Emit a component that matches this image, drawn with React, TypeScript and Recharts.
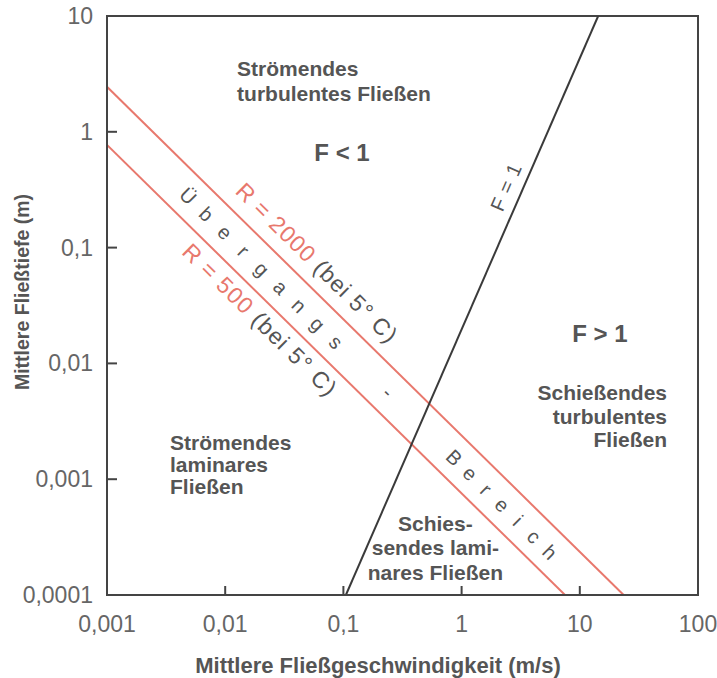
import React from 'react';
import { ComposedChart, Line, XAxis, YAxis, ReferenceDot, ReferenceArea } from 'recharts';

const FONT = '"Liberation Sans", Arial, Helvetica, sans-serif';
const GRAY = '#555555';
const TICKGRAY = '#666666';
const RED = '#e8786d';
const AXIS = '#444444';

// tick values
const xTicks = [0.001, 0.01, 0.1, 1, 10, 100];
const yTicks = [0.0001, 0.001, 0.01, 0.1, 1, 10];

// series (velocity v in m/s, depth h in m)
const froude = [
  { v: 0.105, h: 0.0001 },
  { v: 14.3, h: 10 },
];
const reynolds2000 = [
  { v: 0.001, h: 2.45 },
  { v: 23.5, h: 0.0001 },
];
const reynolds500 = [
  { v: 0.001, h: 0.77 },
  { v: 7.5, h: 0.0001 },
];

// texts
const turbSub = ['Strömendes', 'turbulentes Fließen'];
const turbSuper = ['Schießendes', 'turbulentes', 'Fließen'];
const lamSub = ['Strömendes', 'laminares', 'Fließen'];
const lamSuper = ['Schies-', 'sendes lami-', 'nares Fließen'];
const transition1 = 'Übergangs';
const transition2 = 'Bereich';

const fmt = (n: number) => String(n).replace('.', ',');

const XTick = (p: any) => {
  const { x, y, payload } = p;
  return (
    <g>
      <line x1={x} x2={x} y1={y} y2={y - 9} stroke={AXIS} strokeWidth={2} />
      <text x={x} y={y + 29} textAnchor="middle" dominantBaseline="central" fontSize={23} fill={TICKGRAY} fontFamily={FONT}>
        {fmt(payload.value)}
      </text>
    </g>
  );
};

const YTick = (p: any) => {
  const { x, y, payload } = p;
  return (
    <g>
      <line x1={x} x2={x + 10} y1={y} y2={y} stroke={AXIS} strokeWidth={2} />
      <text x={x - 14} y={y} textAnchor="end" dominantBaseline="central" fontSize={23} fill={TICKGRAY} fontFamily={FONT}>
        {fmt(payload.value)}
      </text>
    </g>
  );
};

const Multi = ({ cx, cy, lines, anchor = 'start', size = 21, weight = 'bold', lh = 23, color = GRAY }: any) => (
  <text x={cx} y={cy} textAnchor={anchor} dominantBaseline="central" fontSize={size} fontWeight={weight} fill={color} fontFamily={FONT}>
    {lines.map((l: string, i: number) => (
      <tspan key={i} x={cx} dy={i === 0 ? 0 : lh}>
        {l}
      </tspan>
    ))}
  </text>
);

const Rotated = ({ cx, cy, angle, children, size = 20, weight = 'normal', spacing = 0 }: any) => (
  <g transform={`rotate(${angle} ${cx} ${cy})`}>
    <text x={cx} y={cy} textAnchor="middle" dominantBaseline="central" fontSize={size} fontWeight={weight} fill={GRAY} fontFamily={FONT} letterSpacing={spacing}>
      {children}
    </text>
  </g>
);

const Spaced = ({ cx, cy, angle, text, step, size = 20 }: any) => {
  const chars = Array.from(text as string);
  const n = chars.length;
  return (
    <g transform={`translate(${cx} ${cy}) rotate(${angle})`}>
      {chars.map((c, i) => (
        <text key={i} x={(i - (n - 1) / 2) * step} y={0} textAnchor="middle" dominantBaseline="central" fontSize={size} fill={GRAY} fontFamily={FONT}>
          {c}
        </text>
      ))}
    </g>
  );
};

const RED_ANGLE = 44.6;
const F_ANGLE = -66.5;

export default function App() {
  return (
    <div style={{ position: 'absolute', left: 0, top: 0, background: '#fff' }}>
      <ComposedChart width={717} height={678} margin={{ top: 16, right: 19, bottom: 0, left: 0 }}>
        <XAxis
          dataKey="v"
          type="number"
          scale="log"
          domain={[0.001, 100]}
          allowDataOverflow
          ticks={xTicks}
          interval={0}
          height={83}
          tickSize={0}
          tickMargin={0}
          tick={<XTick />}
          stroke={AXIS}
          strokeWidth={2}
          label={{
            content: (p: any) => {
              const vb = p.viewBox;
              return (
                <text x={378} y={vb.y + 70} textAnchor="middle" dominantBaseline="central" fontSize={22} fontWeight="bold" fill={GRAY} fontFamily={FONT}>
                  Mittlere Fließgeschwindigkeit (m/s)
                </text>
              );
            },
          }}
        />
        <YAxis
          dataKey="h"
          type="number"
          scale="log"
          domain={[0.0001, 10]}
          allowDataOverflow
          ticks={yTicks}
          interval={0}
          width={107}
          tickSize={0}
          tickMargin={0}
          tick={<YTick />}
          stroke={AXIS}
          strokeWidth={2}
          label={{
            content: () => (
              <text x={22} y={292} transform="rotate(-90 22 292)" textAnchor="middle" dominantBaseline="central" fontSize={19.5} fontWeight="bold" fill={GRAY} fontFamily={FONT}>
                Mittlere Fließtiefe (m)
              </text>
            ),
          }}
        />
        <ReferenceArea x1={0.001} x2={100} y1={0.0001} y2={10} fill="none" stroke={AXIS} strokeWidth={2} />
        <Line data={reynolds2000} dataKey="h" type="linear" stroke={RED} strokeWidth={2} dot={false} isAnimationActive={false} />
        <Line data={reynolds500} dataKey="h" type="linear" stroke={RED} strokeWidth={2} dot={false} isAnimationActive={false} />
        <Line data={froude} dataKey="h" type="linear" stroke="#3a3a3a" strokeWidth={2} dot={false} isAnimationActive={false} />

        <ReferenceDot x={0.0126} y={3.56} r={0} shape={(p: any) => <Multi cx={p.cx} cy={p.cy} lines={turbSub} lh={25} />} />
        <ReferenceDot x={0.0973} y={0.669} r={0} shape={(p: any) => <Multi cx={p.cx} cy={p.cy} lines={['F < 1']} anchor="middle" size={24} />} />
        <ReferenceDot x={14.8} y={0.0183} r={0} shape={(p: any) => <Multi cx={p.cx} cy={p.cy} lines={['F > 1']} anchor="middle" size={24} />} />
        <ReferenceDot x={54.7} y={0.00566} r={0} shape={(p: any) => <Multi cx={p.cx} cy={p.cy} lines={turbSuper} anchor="end" lh={23.5} />} />
        <ReferenceDot x={0.00341} y={0.002095} r={0} shape={(p: any) => <Multi cx={p.cx} cy={p.cy} lines={lamSub} lh={22} />} />
        <ReferenceDot x={0.6} y={0.000419} r={0} shape={(p: any) => <Multi cx={p.cx} cy={p.cy} lines={lamSuper} anchor="middle" lh={24.5} />} />

        <ReferenceDot x={2.375} y={0.3337} r={0} shape={(p: any) => <Rotated cx={p.cx} cy={p.cy} angle={F_ANGLE} size={20} spacing={0.8}>F = 1</Rotated>} />
        <ReferenceDot
          x={0.0598}
          y={0.0736}
          r={0}
          shape={(p: any) => (
            <Rotated cx={p.cx} cy={p.cy} angle={RED_ANGLE} size={23} spacing={1}>
              <tspan fill={RED}>R = 2000</tspan>
              <tspan> (bei 5° C)</tspan>
            </Rotated>
          )}
        />
        <ReferenceDot
          x={0.0197}
          y={0.0237}
          r={0}
          shape={(p: any) => (
            <Rotated cx={p.cx} cy={p.cy} angle={RED_ANGLE} size={23} spacing={1.2}>
              <tspan fill={RED}>R = 500</tspan>
              <tspan> (bei 5° C)</tspan>
            </Rotated>
          )}
        />
        <ReferenceDot x={0.02048} y={0.0653} r={0} shape={(p: any) => <Spaced cx={p.cx} cy={p.cy} angle={RED_ANGLE} text={transition1} step={26} />} />
        <ReferenceDot x={0.2384} y={0.00566} r={0} shape={(p: any) => <Spaced cx={p.cx} cy={p.cy} angle={RED_ANGLE} text="-" step={10} />} />
        <ReferenceDot x={2.197} y={0.000599} r={0} shape={(p: any) => <Spaced cx={p.cx} cy={p.cy} angle={RED_ANGLE} text={transition2} step={22.4} />} />
      </ComposedChart>
    </div>
  );
}
